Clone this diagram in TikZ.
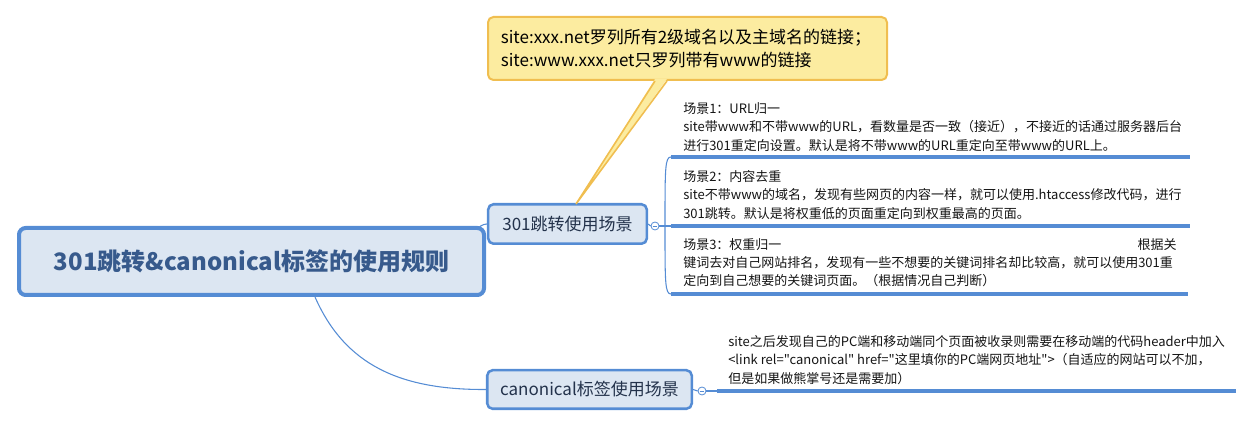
\documentclass[tikz,border=0pt]{standalone}
\usepackage{fontspec}
\setmainfont{Noto Sans CJK SC}
\newfontfamily\plainquotes{Noto Sans CJK SC}
\definecolor{lineblue}{RGB}{85,140,212}
\definecolor{boxfill}{RGB}{220,230,242}
\definecolor{roottext}{RGB}{55,90,140}
\definecolor{branchtext}{RGB}{35,50,75}
\definecolor{bodytext}{RGB}{20,20,20}
\definecolor{calloutfill}{RGB}{252,236,160}
\definecolor{calloutdraw}{RGB}{240,190,80}
\tikzset{
  mainbox/.style={draw=lineblue, fill=boxfill, rounded corners=5pt, line width=3pt,
    minimum width=348.75pt, minimum height=50.25pt, inner sep=0pt,
    font=\fontsize{18pt}{20pt}\selectfont\bfseries, text=roottext},
  branchbox/.style={draw=lineblue, fill=boxfill, rounded corners=4pt, line width=1.9pt,
    inner sep=0pt, font=\fontsize{12.75pt}{15pt}\selectfont, text=branchtext},
  scenetext/.style={anchor=west, align=left, inner sep=0pt,
    font=\fontsize{9.75pt}{13.6pt}\selectfont, text=bodytext},
  leafline/.style={draw=lineblue, line width=2.3pt},
  twig/.style={draw=lineblue, line width=0.8pt},
  collapse/.style={circle, draw=lineblue, fill=white, line width=0.6pt,
    minimum size=6pt, inner sep=0pt},
  calloutbox/.style={draw=calloutdraw, fill=calloutfill, rounded corners=4pt, line width=1.5pt,
    minimum width=299.25pt, minimum height=47.25pt, text width=280pt, align=left,
    inner sep=0pt, font=\fontsize{12.75pt}{17.25pt}\selectfont, text=black}
}
\begin{document}
\begin{tikzpicture}[x=0.75pt,y=-0.75pt]
\useasboundingbox (0,0) rectangle (1254,427);

% named points
\coordinate (j1) at (665,226);
\coordinate (l1s) at (671,157); \coordinate (l1e) at (1190,157);
\coordinate (l2s) at (671,226); \coordinate (l2e) at (1190,226);
\coordinate (l3s) at (671,294); \coordinate (l3e) at (1188,294);
\coordinate (l4s) at (717,391); \coordinate (l4e) at (1236,391);
\coordinate (tip) at (576,204);

% branch boxes
\node[branchbox, minimum width=119pt, minimum height=29.6pt] (b1) at (567.5,224) {301跳转使用场景};
\node[branchbox, minimum width=153.4pt, minimum height=28.9pt] (b2) at (589.5,389.5) {canonical标签使用场景};

% root connectors (drawn behind the root)
\draw[twig] (440,255) .. controls (472,255) and (470,225) .. (b1.west);
\draw[twig] (315,297) .. controls (345,365) and (400,390) .. (b2.west);

% root
\node[mainbox] (root) at (251.5,261.5) {301跳转\&canonical标签的使用规则};

% collapse markers
\node[collapse] (c1) at (655,226) {};
\node[collapse] (c2) at (702,391) {};
\draw[lineblue, line width=0.6pt] ([xshift=-1.8pt]c1.center) -- ([xshift=1.8pt]c1.center);
\draw[lineblue, line width=0.6pt] ([xshift=-1.8pt]c2.center) -- ([xshift=1.8pt]c2.center);
\draw[twig] (b1.east) -- (c1.west);
\draw[twig] (b2.east) -- (c2.west);
\draw[twig] (c1.east) -- (l2s);
\draw[twig] (c2.east) -- (l4s);
\draw[twig] (j1) .. controls (665,168) and (665,157) .. (l1s);
\draw[twig] (j1) .. controls (665,283) and (665,294) .. (l3s);

% leaf underlines
\draw[leafline] (l1s) -- (l1e);
\draw[leafline] (l2s) -- (l2e);
\draw[leafline] (l3s) -- (l3e);
\draw[leafline] (l4s) -- (l4e);

% leaf texts
\node[scenetext] (s1) at (683,127) {场景1：URL归一\\
site带www和不带www的URL，看数量是否一致（接近），不接近的话通过服务器后台\\
进行301重定向设置。默认是将不带www的URL重定向至带www的URL上。};
\node[scenetext] (s2) at (683,195) {场景2：内容去重\\
site不带www的域名，发现有些网页的内容一样，就可以使用.htaccess修改代码，进行\\
301跳转。默认是将权重低的页面重定向到权重最高的页面。};
\node[scenetext] (s3) at (683,263) {\hbox to 370pt{场景3：权重归一\hfill 根据关}\\
键词去对自己网站排名，发现有一些不想要的关键词排名却比较高，就可以使用301重\\
定向到自己想要的关键词页面。（根据情况自己判断）};
\node[scenetext] (s4) at (728,360) {site之后发现自己的PC端和移动端同个页面被收录则需要在移动端的代码header中加入\\
{\plainquotes <link rel="canonical" href="这里填你的PC端网页地址">（自适应的网站可以不加，}\\
但是如果做熊掌号还是需要加）};

% callout
\node[calloutbox] (note) at (687.5,48.5) {site:xxx.net罗列所有2级域名以及主域名的链接；\\
site:www.xxx.net只罗列带有www的链接};
\fill[calloutfill] (655,79) -- (tip) -- (667,79) -- cycle;
\draw[calloutdraw, line width=1.2pt] (655,81) -- (tip) -- (667,81);
\end{tikzpicture}
\end{document}
